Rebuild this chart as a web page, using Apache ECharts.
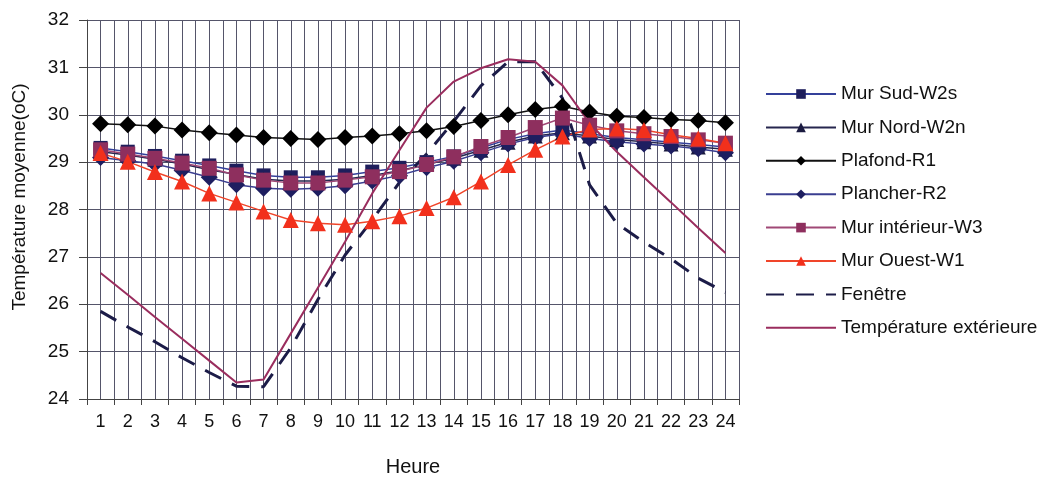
<!DOCTYPE html>
<html>
<head>
<meta charset="utf-8">
<title>Température moyenne</title>
<script src="https://cdn.jsdelivr.net/npm/echarts@6/dist/echarts.min.js"></script>
<style>
    html, body { margin: 0; padding: 0; background: #fff; }
    #chart { width: 1042px; height: 479px; }
</style>
</head>
<body>
<div id="chart"></div>
<script>
// heures
var heures = ['1', '2', '3', '4', '5', '6', '7', '8', '9', '10', '11', '12',
    '13', '14', '15', '16', '17', '18', '19', '20', '21', '22', '23', '24'];
var yTicks = [24, 25, 26, 27, 28, 29, 30, 31, 32];

// valeurs
var murSud = [29.30, 29.22, 29.13, 29.03, 28.93, 28.82, 28.72, 28.68, 28.68, 28.72, 28.80, 28.88,
    29.00, 29.12, 29.30, 29.48, 29.60, 29.68, 29.60, 29.52, 29.47, 29.42, 29.37, 29.32];
var murNord = [29.22, 29.15, 29.06, 28.96, 28.84, 28.74, 28.64, 28.60, 28.60, 28.64, 28.72, 28.82,
    28.95, 29.08, 29.25, 29.42, 29.55, 29.62, 29.55, 29.48, 29.43, 29.38, 29.32, 29.27];
var plafond = [29.81, 29.79, 29.76, 29.68, 29.62, 29.57, 29.52, 29.50, 29.48, 29.52, 29.55, 29.60,
    29.66, 29.75, 29.88, 30.00, 30.11, 30.18, 30.06, 29.97, 29.94, 29.90, 29.88, 29.83];
var plancher = [29.10, 29.03, 28.96, 28.83, 28.68, 28.52, 28.45, 28.43, 28.45, 28.50, 28.60, 28.72,
    28.88, 29.02, 29.20, 29.38, 29.52, 29.60, 29.50, 29.43, 29.38, 29.34, 29.28, 29.20];
var murInterieur = [29.26, 29.17, 29.08, 28.98, 28.87, 28.73, 28.62, 28.56, 28.56, 28.62, 28.69, 28.80,
    28.95, 29.11, 29.33, 29.52, 29.73, 29.93, 29.78, 29.66, 29.60, 29.54, 29.47, 29.40];
var murOuest = [29.19, 29.01, 28.79, 28.59, 28.34, 28.15, 27.96, 27.78, 27.71, 27.68, 27.75, 27.86,
    28.03, 28.26, 28.59, 28.94, 29.26, 29.54, 29.69, 29.71, 29.68, 29.58, 29.50, 29.40];
var fenetre = [25.85, 25.52, 25.21, 24.87, 24.56, 24.27, 24.26, 25.08, 26.10, 27.04, 27.78, 28.57,
    29.17, 29.86, 30.61, 31.12, 31.12, 30.35, 28.52, 27.71, 27.31, 26.96, 26.55, 26.25];
var tempExt = [26.66, 26.20, 25.73, 25.27, 24.81, 24.35, 24.41, 25.38, 26.35, 27.32, 28.34, 29.25,
    30.15, 30.70, 30.98, 31.17, 31.12, 30.62, 29.82, 29.22, 28.68, 28.15, 27.61, 27.08];

var police = 'Liberation Sans, Arial, sans-serif';

function serie(nom, data, couleur, ligne, symbole, taille) {
    return {
        name: nom,
        type: 'line',
        data: data,
        symbol: symbole,
        symbolSize: taille,
        itemStyle: { color: couleur },
        lineStyle: { color: ligne, width: 1.5 },
        emphasis: { disabled: true }
    };
}

var myChart = echarts.init(document.getElementById('chart'));

var option = {
    backgroundColor: '#fff',
    animation: false,
    textStyle: { fontFamily: police },
    grid: { left: 87, right: 303, top: 20, bottom: 80, outerBoundsMode: 'none' },
    legend: {
        orient: 'vertical',
        left: 765,
        top: 84,
        padding: 0,
        itemWidth: 70,
        itemHeight: 12,
        itemGap: 13.4,
        textStyle: { fontFamily: police, fontSize: 19, color: '#111', lineHeight: 20 },
        data: ['Mur Sud-W2s', 'Mur Nord-W2n', 'Plafond-R1', 'Plancher-R2',
            'Mur intérieur-W3', 'Mur Ouest-W1',
            // pas de marqueur pour ces deux lignes
            { name: 'Fenêtre', itemStyle: { opacity: 0 } },
            { name: 'Température extérieure', itemStyle: { opacity: 0 } }]
    },
    xAxis: [{
        type: 'category',
        data: heures,
        boundaryGap: true,
        name: 'Heure',
        nameLocation: 'middle',
        nameGap: 58,
        nameTextStyle: { fontFamily: police, fontSize: 20, color: '#111' },
        axisLine: { lineStyle: { color: '#444', width: 1 } },
        axisTick: { show: true, length: 6, lineStyle: { color: '#444' } },
        axisLabel: { fontFamily: police, fontSize: 18, color: '#111', margin: 14, interval: 0 },
        splitLine: { show: false }
    }, {
        // lignes verticales toutes les demi-heures
        type: 'value',
        min: 0,
        max: 24,
        interval: 0.5,
        position: 'bottom',
        axisLine: { show: false },
        axisTick: { show: false },
        axisLabel: { show: false },
        splitLine: { show: true, lineStyle: { color: '#55556a', width: 1 } }
    }],
    yAxis: {
        type: 'value',
        min: yTicks[0],
        max: yTicks[yTicks.length - 1],
        interval: 1,
        name: 'Température moyenne(oC)',
        nameLocation: 'middle',
        nameGap: 58,
        nameTextStyle: { fontFamily: police, fontSize: 19, color: '#111', padding: [0, 0, 0, 25] },
        axisLine: { show: true, lineStyle: { color: '#444', width: 1 } },
        axisTick: { show: true, length: 8, lineStyle: { color: '#444' } },
        axisLabel: { fontFamily: police, fontSize: 19, color: '#111', margin: 18 },
        splitLine: { show: true, lineStyle: { color: '#55556a', width: 1 } }
    },
    series: [
        serie('Mur Sud-W2s', murSud, '#1e1e5c', '#34409a', 'rect', 14),
        serie('Mur Nord-W2n', murNord, '#1a1a40', '#26264e', 'triangle', 15),
        serie('Plafond-R1', plafond, '#000', '#111', 'diamond', 17),
        serie('Plancher-R2', plancher, '#1e1e60', '#3a3e90', 'diamond', 17),
        serie('Mur intérieur-W3', murInterieur, '#8e2f5e', '#a04876', 'rect', 15),
        serie('Mur Ouest-W1', murOuest, '#f2301c', '#f0452a', 'triangle', 16),
        {
            name: 'Fenêtre',
            type: 'line',
            data: fenetre,
            symbol: 'none',
            itemStyle: { color: '#1c1c48' },
            lineStyle: { color: '#1c1c48', width: 3, type: [18, 12] },
            emphasis: { disabled: true }
        },
        {
            name: 'Température extérieure',
            type: 'line',
            data: tempExt,
            symbol: 'none',
            itemStyle: { color: '#9a2d5e' },
            lineStyle: { color: '#9a2d5e', width: 2 },
            emphasis: { disabled: true }
        }
    ]
};

myChart.setOption(option);
</script>
</body>
</html>
